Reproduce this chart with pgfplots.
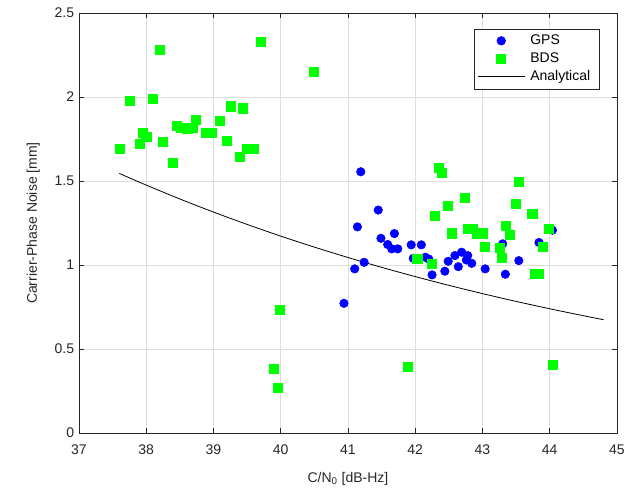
\documentclass[border=0pt]{standalone}
\usepackage{pgfplots}
\pgfplotsset{compat=1.18}
\usepackage{fontspec}
\setmainfont{Liberation Sans}
\definecolor{axgray}{rgb}{0.15,0.15,0.15}
\definecolor{gridgray}{rgb}{0.87,0.87,0.87}
\definecolor{mblue}{rgb}{0,0,1}
\definecolor{mgreen}{rgb}{0,1,0}
\begin{document}
\fontsize{10.5}{12.6}\selectfont
\begin{tikzpicture}
\path[use as bounding box] (-59.25pt,-42pt) rectangle (417.75pt,324.75pt);
\begin{axis}[
  at={(0,0)}, anchor=south west,
  scale only axis, width=403.5pt, height=315pt,
  xmin=37, xmax=45, ymin=0, ymax=2.5,
  xtick={37,38,...,45},
  ytick={0,0.5,1,1.5,2,2.5},
  yticklabels={0,0.5,1,1.5,2,2.5},
  xticklabels={37,38,39,40,41,42,43,44,45},
  tick align=inside,
  major tick length=4pt,
  axis line style={axgray, line width=0.5pt},
  tick style={axgray, line width=0.5pt},
  grid=major,
  major grid style={gridgray, line width=0.5pt},
  ticklabel style={font=\fontsize{10.5}{12.6}\selectfont, text=axgray},
  xticklabel style={yshift=-5pt},
  label style={font=\fontsize{10.5}{12.6}\selectfont, text=axgray},
  xlabel={C/N\textsubscript{0} [dB-Hz]},
  ylabel={Carrier-Phase Noise [mm]},
  xlabel style={yshift=-6pt},
  ylabel style={yshift=4pt},
  /pgf/number format/assume math mode=true,
  legend cell align=left,
  legend style={at={(0.967,0.963)}, anchor=north east,
    draw=axgray, line width=0.5pt, fill=white,
    font=\fontsize{10.5}{12.6}\selectfont,
    row sep=0.5pt, inner sep=2.5pt,
    nodes={inner xsep=4pt}},
  legend image code/.code={\draw[mark repeat=2,mark phase=2] plot coordinates {(0pt,0pt)(17.5pt,0pt)(35pt,0pt)};},
]
\addplot[only marks, mark=*, mark size=3.2pt, color=mblue, mark options={draw=mblue, fill=mblue}] coordinates {
(40.94,0.772) (41.10,0.977) (41.14,1.227) (41.19,1.555) (41.24,1.016)
(41.45,1.327) (41.49,1.159) (41.59,1.122) (41.65,1.096) (41.69,1.187)
(41.74,1.096) (41.94,1.120) (41.97,1.040) (42.09,1.120) (42.15,1.046)
(42.20,1.036) (42.25,0.941) (42.44,0.963) (42.49,1.022) (42.59,1.056)
(42.64,0.990) (42.69,1.076) (42.76,1.030) (42.78,1.056) (42.84,1.010)
(43.04,0.977) (43.30,1.126) (43.34,0.945) (43.54,1.026) (43.84,1.134)
(44.04,1.207)
};
\addlegendentry{GPS}
\addplot[only marks, mark=square*, mark size=3.4pt, color=mgreen, mark options={draw=mgreen, fill=mgreen}] coordinates {
(37.60,1.693) (37.75,1.975) (37.90,1.720) (37.95,1.786) (38.00,1.762)
(38.09,1.987) (38.20,2.281) (38.24,1.732) (38.40,1.609) (38.45,1.826)
(38.51,1.816) (38.61,1.814) (38.69,1.816) (38.74,1.862) (38.88,1.787)
(38.98,1.785) (39.10,1.857) (39.20,1.738) (39.25,1.945) (39.39,1.645)
(39.44,1.933) (39.49,1.693) (39.60,1.693) (39.70,2.329) (39.89,0.382)
(39.95,0.268) (39.99,0.734) (40.49,2.152) (41.89,0.396) (42.03,1.036)
(42.24,1.006) (42.29,1.295) (42.35,1.579) (42.40,1.549) (42.49,1.354)
(42.54,1.189) (42.74,1.400) (42.78,1.215) (42.86,1.215) (42.92,1.189)
(43.00,1.189) (43.03,1.110) (43.25,1.102) (43.29,1.042) (43.35,1.231)
(43.40,1.181) (43.49,1.362) (43.54,1.496) (43.74,1.307) (43.78,0.950)
(43.84,0.947) (43.89,1.106) (43.99,1.213) (44.04,0.408)
};
\addlegendentry{BDS}
\addplot[black, line width=0.6pt, smooth, no marks] coordinates {
(37.6,1.545) (38.0,1.4755) (38.5,1.3929) (39.0,1.3150) (39.5,1.2415)
(40.0,1.1720) (40.5,1.1064) (41.0,1.0446) (41.5,0.9861) (42.0,0.9310)
(42.5,0.8789) (43.0,0.8297) (43.5,0.7833) (44.0,0.7395) (44.5,0.6981)
(44.8,0.6744)
};
\addlegendentry{Analytical}
\end{axis}
\end{tikzpicture}
\end{document}
